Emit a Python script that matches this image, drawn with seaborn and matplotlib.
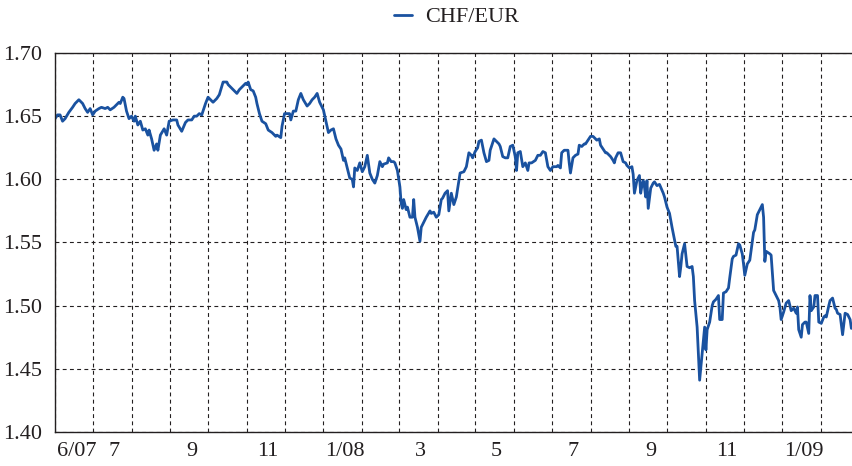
import matplotlib
matplotlib.use('Agg')
import matplotlib.pyplot as plt
import matplotlib.dates as mdates
import pandas as pd
import seaborn as sns

# daily CHF/EUR (days counted from 1 June 2007)
start = pd.Timestamp('2007-06-01')
days = [
    0, 2, 4, 6, 8, 11, 14, 16, 19, 22, 24, 26, 28, 30, 32, 35, 37, 40, 42, 44,
    47, 49, 51, 52, 54, 55, 57, 59, 61, 63, 64, 66, 68, 70, 72, 74, 75, 77, 79, 81,
    82, 84, 87, 89, 91, 94, 97, 98, 101, 104, 106, 109, 111, 113, 115, 117, 120, 122, 124, 126,
    129, 131, 134, 137, 138, 141, 142, 145, 147, 149, 152, 153, 154, 156, 158, 160, 161, 163, 165, 168,
    170, 173, 176, 177, 180, 181, 183, 185, 187, 188, 190, 192, 194, 196, 198, 201, 203, 205, 207, 209,
    211, 214, 216, 218, 220, 222, 224, 226, 228, 230, 231, 233, 235, 237, 238, 239, 241, 243, 245, 247,
    249, 251, 253, 255, 257, 259, 261, 262, 265, 266, 268, 270, 271, 273, 275, 276, 277, 278, 280, 281,
    283, 285, 286, 287, 289, 291, 292, 294, 296, 299, 300, 302, 304, 306, 308, 309, 311, 313, 314, 316,
    318, 320, 323, 326, 328, 330, 332, 333, 335, 337, 338, 340, 342, 344, 346, 347, 350, 352, 354, 355,
    357, 359, 361, 363, 365, 367, 368, 369, 371, 373, 375, 377, 378, 380, 383, 385, 387, 389, 391, 393,
    395, 397, 400, 401, 403, 404, 406, 409, 410, 411, 413, 415, 417, 418, 420, 422, 423, 425, 427, 429,
    431, 432, 434, 435, 437, 439, 440, 443, 445, 446, 447, 449, 451, 453, 455, 456, 458, 460, 461, 462,
    464, 466, 467, 468, 469, 470, 471, 472, 473, 475, 477, 478, 480, 482, 485, 486, 488, 490, 492, 494,
    495, 496, 498, 499, 500, 502, 504, 506, 508, 509, 510, 512, 513, 514, 516, 518, 519, 520, 522, 524,
    525, 527, 529, 530, 532, 533, 535, 537, 538, 540, 541, 543, 545, 546, 548, 549, 550, 552, 554, 556,
    557, 558, 560, 562, 564, 565, 566, 567, 570, 571, 573, 575, 577, 578, 579, 581, 583, 585, 586, 587,
    589, 591, 592, 593, 595, 596, 598, 599, 601, 602, 603, 605, 606, 608, 609, 611, 613, 614, 615, 617,
    618, 620, 622, 623, 624, 626, 628, 630, 632, 634, 635,
]
chf_eur = [
    1.648, 1.651, 1.651, 1.646, 1.648, 1.653, 1.657, 1.660, 1.663, 1.660, 1.656, 1.653, 1.656, 1.651, 1.654, 1.656, 1.657, 1.656, 1.657, 1.655,
    1.657, 1.659, 1.661, 1.660, 1.665, 1.664, 1.654, 1.648, 1.650, 1.646, 1.650, 1.643, 1.646, 1.639, 1.640, 1.635, 1.639, 1.632, 1.623, 1.628,
    1.623, 1.635, 1.640, 1.635, 1.646, 1.647, 1.647, 1.643, 1.638, 1.645, 1.647, 1.647, 1.650, 1.650, 1.652, 1.651, 1.660, 1.665, 1.663, 1.661,
    1.664, 1.667, 1.677, 1.677, 1.675, 1.672, 1.671, 1.668, 1.671, 1.673, 1.676, 1.675, 1.677, 1.671, 1.670, 1.665, 1.660, 1.652, 1.646, 1.644,
    1.639, 1.637, 1.634, 1.635, 1.633, 1.642, 1.652, 1.652, 1.652, 1.647, 1.654, 1.654, 1.663, 1.668, 1.663, 1.658, 1.660, 1.663, 1.665, 1.668,
    1.661, 1.655, 1.646, 1.637, 1.639, 1.640, 1.632, 1.627, 1.624, 1.615, 1.617, 1.609, 1.601, 1.600, 1.594, 1.609, 1.607, 1.613, 1.606, 1.610,
    1.619, 1.605, 1.600, 1.597, 1.603, 1.614, 1.610, 1.612, 1.613, 1.617, 1.614, 1.614, 1.613, 1.607, 1.594, 1.581, 1.577, 1.584, 1.576, 1.578,
    1.570, 1.570, 1.584, 1.570, 1.562, 1.551, 1.562, 1.566, 1.570, 1.575, 1.573, 1.574, 1.570, 1.572, 1.584, 1.585, 1.589, 1.591, 1.575, 1.589,
    1.580, 1.586, 1.605, 1.606, 1.610, 1.621, 1.619, 1.617, 1.622, 1.625, 1.630, 1.631, 1.621, 1.614, 1.615, 1.623, 1.632, 1.630, 1.628, 1.626,
    1.618, 1.617, 1.617, 1.626, 1.627, 1.618, 1.607, 1.621, 1.622, 1.610, 1.613, 1.607, 1.613, 1.613, 1.615, 1.619, 1.619, 1.622, 1.621, 1.610,
    1.607, 1.610, 1.610, 1.611, 1.609, 1.621, 1.623, 1.623, 1.613, 1.605, 1.617, 1.619, 1.620, 1.627, 1.626, 1.628, 1.628, 1.631, 1.634, 1.634,
    1.632, 1.631, 1.632, 1.627, 1.624, 1.621, 1.621, 1.618, 1.615, 1.613, 1.617, 1.621, 1.621, 1.614, 1.613, 1.611, 1.609, 1.610, 1.604, 1.589,
    1.599, 1.603, 1.589, 1.595, 1.599, 1.594, 1.586, 1.599, 1.577, 1.593, 1.597, 1.598, 1.595, 1.596, 1.589, 1.586, 1.578, 1.573, 1.562, 1.552,
    1.547, 1.547, 1.523, 1.531, 1.541, 1.549, 1.531, 1.530, 1.531, 1.523, 1.504, 1.483, 1.462, 1.441, 1.462, 1.483, 1.465, 1.481, 1.487, 1.500,
    1.503, 1.505, 1.508, 1.489, 1.489, 1.510, 1.511, 1.514, 1.522, 1.537, 1.539, 1.540, 1.549, 1.548, 1.541, 1.533, 1.524, 1.533, 1.536, 1.551,
    1.558, 1.560, 1.572, 1.576, 1.580, 1.570, 1.535, 1.543, 1.541, 1.540, 1.512, 1.508, 1.504, 1.499, 1.489, 1.495, 1.502, 1.504, 1.500, 1.496,
    1.498, 1.494, 1.499, 1.481, 1.475, 1.485, 1.487, 1.487, 1.478, 1.508, 1.496, 1.499, 1.508, 1.508, 1.487, 1.486, 1.491, 1.492, 1.491, 1.500,
    1.504, 1.506, 1.498, 1.497, 1.494, 1.493, 1.477, 1.494, 1.493, 1.489, 1.482,
]

label_months = ['2007-06', '2007-07', '2007-09', '2007-11', '2008-01', '2008-03',
                '2008-05', '2008-07', '2008-09', '2008-11', '2009-01']
label_text = ['6/07', '7', '9', '11', '1/08', '3', '5', '7', '9', '11', '1/09']
y_ticks = [1.40, 1.45, 1.50, 1.55, 1.60, 1.65, 1.70]

df = pd.DataFrame({
    'date': start + pd.to_timedelta(days, unit='D'),
    'rate': chf_eur,
    'series': 'CHF/EUR',
})

sns.set_style('white')
plt.rcParams['font.family'] = ['Liberation Serif', 'DejaVu Serif']
ink = '#231f20'

fig, ax = plt.subplots(figsize=(8.52, 4.66), dpi=100)
fig.subplots_adjust(left=0.0646, right=1.0, top=0.8863, bottom=0.073)

sns.lineplot(data=df, x='date', y='rate', hue='series', palette=['#1a52a0'],
             linewidth=2.0, ax=ax)

# month boundaries as dashed grid, labels in the middle of the month
ax.set_xlim(start, start + pd.Timedelta(days=635.5))
ax.xaxis.set_minor_locator(mdates.MonthLocator())
ax.set_xticks([pd.Timestamp(m + '-01') + pd.Timedelta(days=17) for m in label_months])
ax.set_xticklabels(label_text)
ax.set_ylim(1.40, 1.70)
ax.set_yticks(y_ticks)
ax.set_yticklabels([f'{v:.2f}' for v in y_ticks])

grid_kw = dict(color=ink, linewidth=0.8, linestyle=(0, (3.5, 3)))
ax.grid(False)
ax.xaxis.grid(True, which='minor', **grid_kw)
ax.yaxis.grid(True, which='major', **grid_kw)
ax.set_axisbelow(True)

ax.tick_params(which='both', length=0, labelsize=16, colors=ink)
ax.tick_params(axis='x', pad=7)
ax.tick_params(axis='y', pad=9)
ax.set_xlabel('')
ax.set_ylabel('')

ax.spines['right'].set_visible(False)
for s in ['left', 'top', 'bottom']:
    ax.spines[s].set_color(ink)
    ax.spines[s].set_linewidth(1.0)

leg = ax.legend(loc='center', bbox_to_anchor=(0.536, 0.9635), bbox_transform=fig.transFigure,
                frameon=False, fontsize=16, handlelength=0.8, handletextpad=0.6)
for t in leg.get_texts():
    t.set_color(ink)

fig.savefig('out.png', dpi=100)
